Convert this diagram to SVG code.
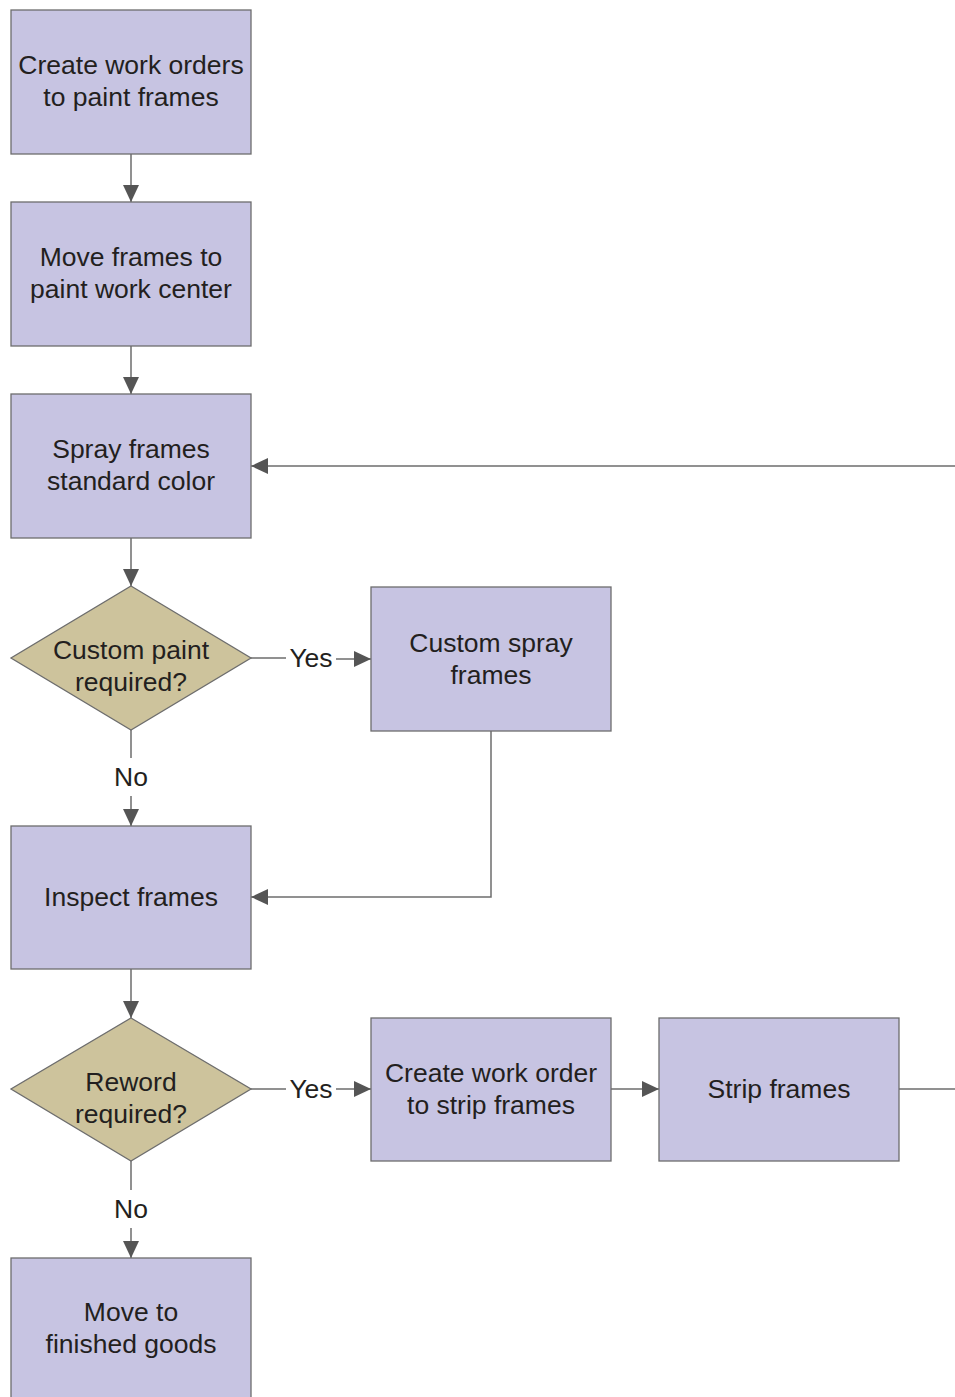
<svg xmlns="http://www.w3.org/2000/svg" width="955" height="1397" viewBox="0 0 955 1397">
<style>
.box{fill:#c7c4e2;stroke:#6d6d6d;stroke-width:1.3}
.dia{fill:#cdc39c;stroke:#6d6d6d;stroke-width:1.3}
.t{font-family:"Liberation Sans",Arial,sans-serif;font-size:26.5px;fill:#231f20;text-anchor:middle}
.c{fill:none;stroke:#6d6d6d;stroke-width:1.5}
</style>
<defs>
<marker id="ah" markerWidth="17" markerHeight="16" viewBox="0 0 17 16" refX="17" refY="8" orient="auto" markerUnits="userSpaceOnUse">
<path d="M0,0 L17,8 L0,16 Z" fill="#555"/>
</marker>
</defs>
<rect width="955" height="1397" fill="#fff"/>
<g id="connectors">
<path class="c" d="M131,154 V202" marker-end="url(#ah)"/>
<path class="c" d="M131,346 V394" marker-end="url(#ah)"/>
<path class="c" d="M955,466 H251" marker-end="url(#ah)"/>
<path class="c" d="M131,538 V586" marker-end="url(#ah)"/>
<path class="c" d="M251,658 H286"/>
<path class="c" d="M336,659 H371" marker-end="url(#ah)"/>
<path class="c" d="M131,730 V758"/>
<path class="c" d="M131,796 V826" marker-end="url(#ah)"/>
<path class="c" d="M491,731 V897 H251" marker-end="url(#ah)"/>
<path class="c" d="M131,969 V1018" marker-end="url(#ah)"/>
<path class="c" d="M251,1089 H286"/>
<path class="c" d="M336,1089 H371" marker-end="url(#ah)"/>
<path class="c" d="M611,1089 H659" marker-end="url(#ah)"/>
<path class="c" d="M899,1089 H955"/>
<path class="c" d="M131,1161 V1190"/>
<path class="c" d="M131,1228 V1258" marker-end="url(#ah)"/>
<text class="t" x="311" y="667">Yes</text>
<text class="t" x="131" y="786">No</text>
<text class="t" x="311" y="1098">Yes</text>
<text class="t" x="131" y="1218">No</text>
</g>
<g id="n1"><rect class="box" x="11" y="10" width="240" height="144"/><text class="t" x="131" y="74">Create work orders</text><text class="t" x="131" y="106">to paint frames</text></g>
<g id="n2"><rect class="box" x="11" y="202" width="240" height="144"/><text class="t" x="131" y="266">Move frames to</text><text class="t" x="131" y="298">paint work center</text></g>
<g id="n3"><rect class="box" x="11" y="394" width="240" height="144"/><text class="t" x="131" y="458">Spray frames</text><text class="t" x="131" y="490">standard color</text></g>
<g id="d1"><polygon class="dia" points="131,586 251,658 131,730 11,658"/><text class="t" x="131" y="659">Custom paint</text><text class="t" x="131" y="691">required?</text></g>
<g id="n4"><rect class="box" x="371" y="587" width="240" height="144"/><text class="t" x="491" y="652">Custom spray</text><text class="t" x="491" y="684">frames</text></g>
<g id="n5"><rect class="box" x="11" y="826" width="240" height="143"/><text class="t" x="131" y="906">Inspect frames</text></g>
<g id="d2"><polygon class="dia" points="131,1018 251,1089 131,1161 11,1089"/><text class="t" x="131" y="1091">Reword</text><text class="t" x="131" y="1123">required?</text></g>
<g id="n6"><rect class="box" x="371" y="1018" width="240" height="143"/><text class="t" x="491" y="1082">Create work order</text><text class="t" x="491" y="1114">to strip frames</text></g>
<g id="n7"><rect class="box" x="659" y="1018" width="240" height="143"/><text class="t" x="779" y="1098">Strip frames</text></g>
<g id="n8"><rect class="box" x="11" y="1258" width="240" height="144"/><text class="t" x="131" y="1321">Move to</text><text class="t" x="131" y="1353">finished goods</text></g>
</svg>
